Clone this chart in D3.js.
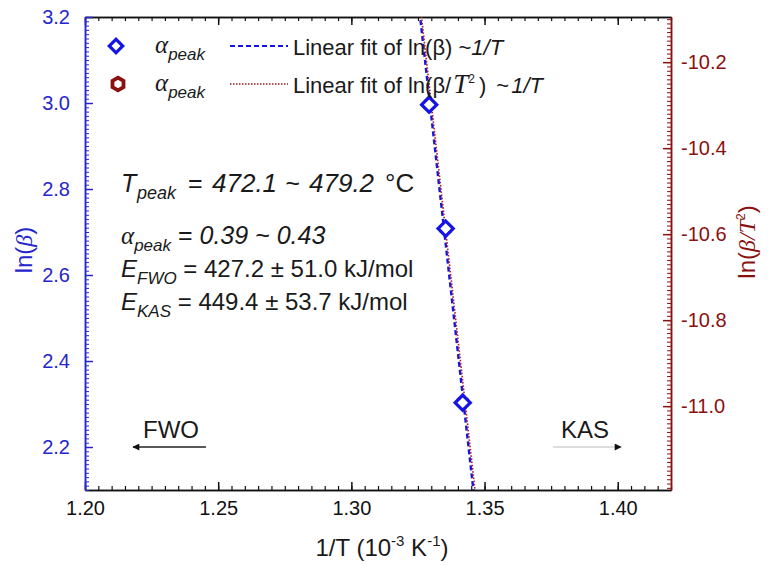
<!DOCTYPE html>
<html>
<head>
<meta charset="utf-8">
<script src="https://cdn.jsdelivr.net/npm/d3@7"></script>
<style>
  body { margin: 0; background: #fff; }
  text { font-family: 'Liberation Sans', Arial, sans-serif; }
</style>
</head>
<body>
<div id="chart"></div>
<script>
// values
const invT = [1.3292, 1.3354, 1.3418];        // 1/T (10^-3 K^-1)
const lnBeta = [2.996, 2.708, 2.303];          // FWO, left axis
const lnBetaT2 = [-10.300, -10.588, -10.990];  // KAS, right axis
const xTicks = [1.20, 1.25, 1.30, 1.35, 1.40];
const yLeftTicks = [2.2, 2.4, 2.6, 2.8, 3.0, 3.2];
const yRightTicks = [-11.0, -10.8, -10.6, -10.4, -10.2];

const blue = '#1414e6', blueAxis = '#2626cc', red = '#8b1010';
const serif = "'Liberation Serif', 'Times New Roman', serif";

const margin = { top: 17, right: 101, bottom: 75, left: 85 },
  width = 772 - margin.left - margin.right,
  height = 565 - margin.top - margin.bottom;

const svg = d3
  .select('#chart')
  .append('svg')
  .attr('width', 772)
  .attr('height', 565)
  .append('g')
  .attr('transform', `translate(${margin.left},${margin.top})`);

const x = d3.scaleLinear().domain([1.2, 1.42]).range([0, width]);
const yL = d3.scaleLinear().domain([2.1, 3.2]).range([height, 0]);
const yR = d3.scaleLinear().domain([-11.195, -10.095]).range([height, 0]);

const xMinor = d3.range(0, 45).map((i) => +(1.2 + i * 0.005).toFixed(3)).filter((d) => d <= 1.42);
const yLMinor = d3.range(0, 111).map((i) => +(2.1 + i * 0.01).toFixed(2));
const yRMinor = d3.range(0, 111).map((i) => +(-11.19 + i * 0.01).toFixed(2)).filter((d) => d <= -10.095);

// plain hyphen like the original, not the unicode minus
const fmt1 = (d) => d3.format('.1f')(d).replace('\u2212', '-');

function styleAxis(g, color, size, w) {
  g.selectAll('path').attr('stroke', color).attr('stroke-width', 1.5);
  g.selectAll('line').attr('stroke', color).attr('stroke-width', w || 1.2);
  g.selectAll('text').attr('fill', color).style('font-size', size + 'px')
    .style('font-family', "'Liberation Sans', Arial, sans-serif");
}

// bottom axis
svg.append('g').attr('transform', `translate(0,${height})`)
  .call(d3.axisBottom(x).tickValues(xMinor).tickSize(-4).tickSizeOuter(0).tickFormat(''))
  .call((g) => styleAxis(g, '#111', 20));
svg.append('g').attr('transform', `translate(0,${height})`)
  .call(d3.axisBottom(x).tickValues(xTicks).tickSize(-8).tickSizeOuter(0).tickPadding(11).tickFormat(d3.format('.2f')))
  .call((g) => styleAxis(g, '#111', 20, 1.5));

// top axis
svg.append('g')
  .call(d3.axisTop(x).tickValues(xMinor).tickSize(-4).tickSizeOuter(0).tickFormat(''))
  .call((g) => styleAxis(g, '#111', 20));
svg.append('g')
  .call(d3.axisTop(x).tickValues(xTicks).tickSize(-8).tickSizeOuter(0).tickFormat(''))
  .call((g) => styleAxis(g, '#111', 20, 1.5));

// left axis
svg.append('g')
  .call(d3.axisLeft(yL).tickValues(yLMinor).tickSize(-4).tickSizeOuter(0).tickFormat(''))
  .call((g) => styleAxis(g, blueAxis, 20, 1));
svg.append('g')
  .call(d3.axisLeft(yL).tickValues(yLeftTicks).tickSize(-8).tickSizeOuter(0).tickPadding(15).tickFormat(fmt1))
  .call((g) => styleAxis(g, blueAxis, 20, 1.5));

// right axis
svg.append('g').attr('transform', `translate(${width},0)`)
  .call(d3.axisRight(yR).tickValues(yRMinor).tickSize(-4).tickSizeOuter(0).tickFormat(''))
  .call((g) => styleAxis(g, red, 20, 1));
svg.append('g').attr('transform', `translate(${width},0)`)
  .call(d3.axisRight(yR).tickValues(yRightTicks).tickSize(-8).tickSizeOuter(0).tickPadding(10).tickFormat(fmt1))
  .call((g) => styleAxis(g, red, 20, 1.5));

// linear fits
function fit(xs, ys) {
  const mx = d3.mean(xs), my = d3.mean(ys);
  const b = d3.sum(xs, (v, i) => (v - mx) * (ys[i] - my)) / d3.sum(xs, (v) => (v - mx) ** 2);
  return (v) => my + b * (v - mx);
}
const fitL = fit(invT, lnBeta);
const fitR = fit(invT, lnBetaT2);
const xs = d3.range(0, 101).map((i) => 1.2 + i * 0.0022);

svg.append('clipPath').attr('id', 'clip')
  .append('rect').attr('width', width).attr('height', height);
const plot = svg.append('g').attr('clip-path', 'url(#clip)');

plot.append('path').datum(xs)
  .attr('d', d3.line().x((d) => x(d)).y((d) => yL(fitL(d))))
  .attr('fill', 'none').attr('stroke', blue).attr('stroke-width', 2.4)
  .attr('stroke-dasharray', '5,3');
plot.append('path').datum(xs)
  .attr('d', d3.line().x((d) => x(d) + 1.5).y((d) => yR(fitR(d))))
  .attr('fill', 'none').attr('stroke', '#b02020').attr('stroke-width', 1.6)
  .attr('stroke-dasharray', '1.6,1.6');

// markers
const hexagon = {
  draw(ctx, size) {
    const r = Math.sqrt(size / 2.598);
    for (let i = 0; i < 6; i++) {
      const a = Math.PI / 6 + (i * Math.PI) / 3;
      if (i === 0) ctx.moveTo(r * Math.cos(a), r * Math.sin(a));
      else ctx.lineTo(r * Math.cos(a), r * Math.sin(a));
    }
    ctx.closePath();
  },
};
const diamond = d3.symbol().type(d3.symbolSquare).size(115);
const hex = d3.symbol().type(hexagon).size(70);

plot.selectAll('.kas').data(invT).join('path')
  .attr('transform', (d, i) => `translate(${x(d)},${yR(lnBetaT2[i])})`)
  .attr('d', hex).attr('fill', 'none').attr('stroke', red).attr('stroke-width', 3);
plot.selectAll('.fwo').data(invT).join('path')
  .attr('transform', (d, i) => `translate(${x(d)},${yL(lnBeta[i])}) rotate(45)`)
  .attr('d', diamond).attr('fill', '#fff').attr('stroke', blue).attr('stroke-width', 3.2);

// legend
const leg = svg.append('g').attr('transform', `translate(${-margin.left},${-margin.top})`);
leg.append('path').attr('transform', 'translate(116,46) rotate(45)')
  .attr('d', d3.symbol().type(d3.symbolSquare).size(90)).attr('fill', '#fff')
  .attr('stroke', blue).attr('stroke-width', 3.2);
leg.append('path').attr('transform', 'translate(118,84)')
  .attr('d', d3.symbol().type(hexagon).size(105)).attr('fill', '#fff')
  .attr('stroke', red).attr('stroke-width', 3.8);
leg.append('line').attr('x1', 230).attr('x2', 288).attr('y1', 46).attr('y2', 46)
  .attr('stroke', blue).attr('stroke-width', 2).attr('stroke-dasharray', '5,3');
leg.append('line').attr('x1', 230).attr('x2', 288).attr('y1', 84).attr('y2', 84)
  .attr('stroke', '#a01818').attr('stroke-width', 1.5).attr('stroke-dasharray', '1.5,1.5');

function alphaPeak(g, xPos, yPos, size, sub) {
  const t = g.append('text').attr('x', xPos).attr('y', yPos).attr('fill', '#1a1a1a')
    .style('font-size', size + 'px');
  t.append('tspan').text('α').style('font-family', serif).style('font-style', 'italic');
  t.append('tspan').text('peak').style('font-style', 'italic').style('font-size', sub + 'px')
    .attr('dy', 7);
  return t;
}
alphaPeak(leg, 155, 53, 25, 17);
alphaPeak(leg, 155, 91, 25, 17);

const l1 = leg.append('text').attr('x', 293).attr('y', 55).attr('fill', '#1a1a1a').style('font-size', '22px');
l1.append('tspan').text('Linear fit of ln(β) ~');
l1.append('tspan').text('1/T').style('font-style', 'italic');

const l2 = leg.append('text').attr('x', 293).attr('y', 93).attr('fill', '#1a1a1a').style('font-size', '22px');
l2.append('tspan').text('Linear fit of ln(β/');
l2.append('tspan').text('T').style('font-style', 'italic').style('font-size', '27px')
  .style('font-family', serif).attr('dx', 2);
l2.append('tspan').text('2').style('font-size', '12px').attr('dy', -10);
l2.append('tspan').text(')').attr('dy', 10).attr('dx', 4);
l2.append('tspan').text(' ~').attr('dx', 4);
l2.append('tspan').text('1/T').style('font-style', 'italic').attr('dx', 2);

// annotations
const ann = svg.append('g').attr('transform', `translate(${-margin.left},${-margin.top})`)
  .attr('fill', '#1a1a1a').style('font-size', '24px');

const a1 = ann.append('text').attr('y', 192).style('font-size', '25px');
a1.append('tspan').attr('x', 121).text('T').style('font-style', 'italic');
a1.append('tspan').attr('x', 137).text('peak').style('font-style', 'italic').style('font-size', '18px').attr('dy', 7);
a1.append('tspan').attr('x', 188).text('=').attr('dy', -7);
a1.append('tspan').attr('x', 212).text('472.1').style('font-style', 'italic').style('font-size', '26px');
a1.append('tspan').attr('x', 285).text('~').style('font-style', 'italic');
a1.append('tspan').attr('x', 309).text('479.2').style('font-style', 'italic').style('font-size', '26px');
a1.append('tspan').attr('x', 385).text('°C').style('font-size', '26px');

const a2 = alphaPeak(ann, 121, 244, 25, 17);
a2.append('tspan').text(' = ').attr('dy', -7);
a2.append('tspan').text('0.39 ~ 0.43').style('font-style', 'italic');

const a3 = ann.append('text').attr('x', 121).attr('y', 277);
a3.append('tspan').text('E').style('font-style', 'italic');
a3.append('tspan').text('FWO').style('font-style', 'italic').style('font-size', '17px').attr('dy', 7);
a3.append('tspan').text(' = 427.2 ± 51.0 kJ/mol').attr('dy', -7);

const a4 = ann.append('text').attr('x', 121).attr('y', 310);
a4.append('tspan').text('E').style('font-style', 'italic');
a4.append('tspan').text('KAS').style('font-style', 'italic').style('font-size', '17px').attr('dy', 7);
a4.append('tspan').text(' = 449.4 ± 53.7 kJ/mol').attr('dy', -7);

// direction arrows
const defs = svg.append('defs');
defs.append('marker').attr('id', 'head').attr('viewBox', '0 0 10 10')
  .attr('refX', 9).attr('refY', 5).attr('markerWidth', 11).attr('markerHeight', 7)
  .attr('markerUnits', 'userSpaceOnUse').attr('orient', 'auto')
  .append('path').attr('d', 'M0,0L10,5L0,10Z').attr('fill', '#111');

ann.append('text').attr('x', 143).attr('y', 438).text('FWO');
ann.append('line').attr('x1', 206).attr('x2', 133).attr('y1', 447).attr('y2', 447)
  .attr('stroke', '#222').attr('stroke-width', 1.3).attr('marker-end', 'url(#head)');
ann.append('text').attr('x', 561).attr('y', 438).text('KAS');
ann.append('line').attr('x1', 553).attr('x2', 621).attr('y1', 447).attr('y2', 447)
  .attr('stroke', '#bbb').attr('stroke-width', 1).attr('marker-end', 'url(#head)');

// axis titles
const tx = svg.append('text').attr('x', width / 2 + 4).attr('y', height + 66)
  .attr('text-anchor', 'middle').attr('fill', '#1a1a1a').style('font-size', '24px');
tx.append('tspan').text('1/T (10');
tx.append('tspan').text('-3').style('font-size', '15px').attr('dy', -10);
tx.append('tspan').text(' K').attr('dy', 10);
tx.append('tspan').text('-1').style('font-size', '15px').attr('dy', -10);
tx.append('tspan').text(')').attr('dy', 10);

const tl = svg.append('text')
  .attr('transform', `translate(${-margin.left + 32},${250 - margin.top}) rotate(-90)`)
  .attr('text-anchor', 'middle').attr('fill', blueAxis).style('font-size', '24px');
tl.append('tspan').text('ln(');
tl.append('tspan').text('β').style('font-style', 'italic').style('font-family', serif);
tl.append('tspan').text(')');

const tr = svg.append('text')
  .attr('transform', `translate(${width + 84},${242 - margin.top}) rotate(-90)`)
  .attr('text-anchor', 'middle').attr('fill', red).style('font-size', '24px');
tr.append('tspan').text('ln(');
tr.append('tspan').text('β/T').style('font-style', 'italic').style('font-family', serif);
tr.append('tspan').text('2').style('font-size', '12px').attr('dy', -10);
tr.append('tspan').text(')').attr('dy', 10);
</script>
</body>
</html>
